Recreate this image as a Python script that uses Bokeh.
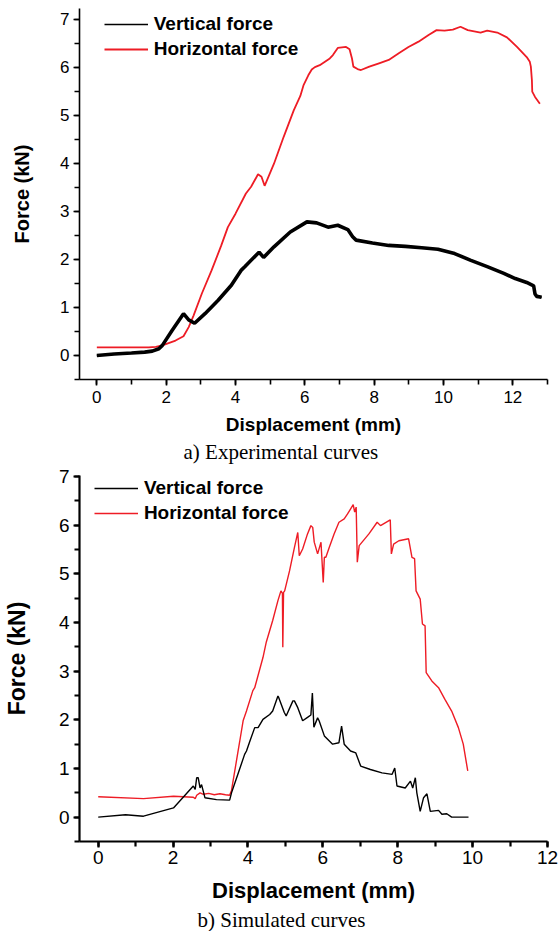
from bokeh.plotting import figure
from bokeh.models import Range1d, Legend, LegendItem, Title, SingleIntervalTicker
from bokeh.layouts import column
from bokeh.embed import file_html
from bokeh.resources import INLINE

# ---------------- data: a) Experimental curves ----------------
exp_h_x = [0, 0.5, 1.0, 1.5, 1.7, 1.89, 2.27, 2.5, 2.65, 2.79, 3.03, 3.31, 3.59, 3.78, 4.0,
           4.30, 4.45, 4.65, 4.75, 4.84, 5.11, 5.39, 5.68, 5.87, 5.96, 6.10, 6.20, 6.29, 6.43,
           6.72, 6.81, 6.95, 7.19, 7.29, 7.36, 7.40, 7.52, 7.62, 7.86, 8.14, 8.42, 8.71, 8.99,
           9.28, 9.57, 9.80, 10.03, 10.27, 10.49, 10.70, 11.07, 11.26, 11.55, 11.83, 12.12,
           12.40, 12.49, 12.52, 12.55, 12.56, 12.64, 12.78]
exp_h_y = [0.17, 0.17, 0.17, 0.17, 0.18, 0.21, 0.31, 0.40, 0.59, 0.83, 1.29, 1.77, 2.29, 2.67, 2.95,
           3.37, 3.51, 3.77, 3.72, 3.53, 3.99, 4.55, 5.10, 5.40, 5.62, 5.83, 5.95, 6.00, 6.04,
           6.18, 6.25, 6.40, 6.42, 6.37, 6.18, 6.01, 5.96, 5.94, 6.01, 6.08, 6.15, 6.29, 6.42,
           6.53, 6.67, 6.77, 6.76, 6.78, 6.84, 6.77, 6.72, 6.76, 6.72, 6.62, 6.42,
           6.21, 6.11, 6.01, 5.73, 5.49, 5.38, 5.24]

exp_v_x = [0, 0.5, 1.0, 1.38, 1.6, 1.79, 1.89, 2.17, 2.5, 2.65, 2.82, 3.12, 3.5, 3.88, 4.16,
           4.26, 4.68, 4.81, 5.11, 5.58, 6.06, 6.34, 6.67, 6.95, 7.24, 7.38, 7.48, 7.95, 8.42,
           8.90, 9.37, 9.84, 10.32, 10.79, 11.26, 11.74, 12.07, 12.40, 12.60, 12.64, 12.69, 12.83]
exp_v_y = [0.0, 0.03, 0.05, 0.07, 0.09, 0.14, 0.21, 0.52, 0.87, 0.74, 0.67, 0.87, 1.15, 1.46, 1.77,
           1.84, 2.15, 2.04, 2.26, 2.57, 2.78, 2.76, 2.67, 2.71, 2.62, 2.47, 2.40, 2.34, 2.29,
           2.27, 2.24, 2.21, 2.12, 1.98, 1.85, 1.71, 1.60, 1.52, 1.45, 1.28, 1.23, 1.21]

# ---------------- data: b) Simulated curves ----------------
sim_h_x = [0, 1.21, 2.01, 2.54, 2.59, 2.63, 2.72, 2.81, 2.95, 3.1, 3.25, 3.4, 3.51, 3.56, 3.78,
           3.87, 3.96, 4.13, 4.18, 4.40, 4.49, 4.66, 4.80, 4.88, 4.92, 4.93, 4.95, 4.98, 5.11,
           5.24, 5.33, 5.37, 5.46, 5.59, 5.68, 5.73, 5.77, 5.86, 5.95, 6.01, 6.04, 6.08, 6.17,
           6.30, 6.43, 6.57, 6.66, 6.81, 6.85, 6.89, 6.92, 6.97, 7.23, 7.45, 7.54, 7.80, 7.83,
           7.89, 8.03, 8.29, 8.38, 8.45, 8.49, 8.60, 8.66, 8.73, 8.76, 8.91, 9.09, 9.26, 9.44,
           9.62, 9.75, 9.87]
sim_h_y = [0.42, 0.38, 0.43, 0.41, 0.38, 0.45, 0.50, 0.47, 0.49, 0.46, 0.48, 0.46, 0.45, 0.55, 1.56,
           1.98, 2.18, 2.60, 2.66, 3.28, 3.60, 4.04, 4.45, 4.65, 4.60, 3.49, 4.62, 4.65, 5.06,
           5.54, 5.85, 5.37, 5.51, 5.82, 5.99, 5.95, 5.65, 5.41, 5.65, 4.82, 5.34, 5.34, 5.54,
           5.82, 6.06, 6.13, 6.23, 6.42, 6.27, 6.37, 5.24, 5.58, 5.82, 6.06, 5.99, 6.11, 5.41,
           5.61, 5.68, 5.72, 5.34, 5.31, 4.65, 4.48, 3.97, 3.93, 2.97, 2.80, 2.66, 2.42, 2.18,
           1.84, 1.50, 0.95]

sim_v_x = [0, 0.73, 1.21, 2.01, 2.54, 2.59, 2.63, 2.67, 2.72, 2.76, 2.85, 3.16, 3.51, 3.56, 3.73,
           3.91, 3.96, 4.05, 4.18, 4.27, 4.40, 4.58, 4.66, 4.80, 4.82, 4.97, 5.02, 5.20, 5.24,
           5.33, 5.46, 5.59, 5.68, 5.72, 5.76, 5.86, 5.90, 6.04, 6.26, 6.43, 6.50, 6.57, 6.74,
           6.88, 7.01, 7.27, 7.58, 7.85, 7.92, 7.98, 8.20, 8.34, 8.40, 8.47, 8.51, 8.60, 8.69,
           8.78, 8.87, 9.09, 9.18, 9.31, 9.44, 9.89]
sim_v_y = [0.0, 0.05, 0.02, 0.19, 0.64, 0.57, 0.81, 0.81, 0.60, 0.67, 0.40, 0.36, 0.35, 0.50, 0.88,
           1.29, 1.36, 1.56, 1.84, 1.84, 2.01, 2.11, 2.18, 2.49, 2.46, 2.15, 2.08, 2.39, 2.39,
           2.25, 1.98, 2.05, 2.10, 2.55, 1.85, 2.04, 1.98, 1.67, 1.50, 1.53, 1.87, 1.50, 1.36,
           1.32, 1.05, 0.98, 0.91, 0.88, 1.01, 0.64, 0.60, 0.74, 0.60, 0.81, 0.50, 0.12, 0.40,
           0.48, 0.12, 0.14, 0.06, 0.07, 0.0, 0.0]

series_labels = ["Vertical force", "Horizontal force"]
x_title = "Displacement (mm)"
y_title = "Force (kN)"
captions = ["a) Experimental curves", "b) Simulated curves"]

RED = "#ee1c25"
BLACK = "#000000"
SANS = "Liberation Sans"
SERIF = "Liberation Serif"


def style_axes(p, tick_size, xtitle_size, ytitle_size, line_w, xstand, xlab_stand, ylab_stand):
    p.grid.visible = False
    p.outline_line_color = None
    p.background_fill_color = "white"
    p.border_fill_color = "white"
    for ax in (p.xaxis[0], p.yaxis[0]):
        ax.axis_line_width = line_w
        ax.axis_line_color = "black"
        ax.major_tick_line_width = line_w
        ax.minor_tick_line_width = line_w
        ax.major_tick_line_color = "black"
        ax.minor_tick_line_color = "black"
        ax.major_tick_in = 0
        ax.major_tick_out = 6
        ax.minor_tick_in = 0
        ax.minor_tick_out = 5
        ax.major_label_text_font = SANS
        ax.major_label_text_font_size = tick_size
        ax.major_label_text_color = "black"
        ax.axis_label_text_font = SANS
        ax.axis_label_text_font_style = "bold"
        ax.axis_label_text_color = "black"
    p.xaxis[0].major_label_standoff = xstand
    p.yaxis[0].major_label_standoff = 4
    p.xaxis[0].axis_label_text_font_size = xtitle_size
    p.yaxis[0].axis_label_text_font_size = ytitle_size
    p.xaxis[0].ticker = SingleIntervalTicker(interval=2, num_minor_ticks=2)
    p.yaxis[0].ticker = SingleIntervalTicker(interval=1, num_minor_ticks=2)
    p.xaxis[0].axis_label = x_title
    p.yaxis[0].axis_label = y_title
    p.xaxis[0].axis_label_standoff = xlab_stand
    p.yaxis[0].axis_label_standoff = ylab_stand


def add_legend(p, r_v, r_h, loc, height):
    leg = Legend(items=[LegendItem(label=series_labels[0], renderers=[r_v]),
                        LegendItem(label=series_labels[1], renderers=[r_h])],
                 location=loc, glyph_width=44, glyph_height=height, label_height=height,
                 spacing=3, padding=0, margin=0, label_standoff=6,
                 border_line_color=None, background_fill_alpha=0,
                 label_text_font=SANS, label_text_font_style="bold",
                 label_text_font_size="19px", label_text_color="black")
    p.add_layout(leg)


# ---------------- top panel ----------------
p1 = figure(width=558, height=464, x_range=Range1d(-0.5, 13.0), y_range=Range1d(-0.5, 7.22),
            output_backend="svg", toolbar_location=None,
            min_border_left=76, min_border_right=7, min_border_top=8, min_border_bottom=85)
style_axes(p1, "17px", "19px", "20px", 1.6, 5, 8, 24)
r_h1 = p1.line(exp_h_x, exp_h_y, line_color=RED, line_width=1.8)
# thick trace, plus a thin core of the same data used for the legend key
p1.line(exp_v_x, exp_v_y, line_color=BLACK, line_width=3.6)
r_v1 = p1.line(exp_v_x, exp_v_y, line_color=BLACK, line_width=1.6)
add_legend(p1, r_v1, r_h1, (24.7, 318.7), 22)
p1.add_layout(Title(text=captions[0], align="left", offset=104, text_font=SERIF,
                    text_font_style="normal", text_font_size="21px", text_color="black",
                    standoff=0), "below")

# ---------------- bottom panel ----------------
p2 = figure(width=558, height=467, x_range=Range1d(-0.5, 12.0), y_range=Range1d(-0.5, 7.02),
            output_backend="svg", toolbar_location=None,
            min_border_left=76, min_border_right=11, min_border_top=11, min_border_bottom=90)
style_axes(p2, "19px", "22px", "23px", 2.2, 3, 11, 26)
r_h2 = p2.line(sim_h_x, sim_h_y, line_color=RED, line_width=1.4)
r_v2 = p2.line(sim_v_x, sim_v_y, line_color=BLACK, line_width=1.4)
add_legend(p2, r_v2, r_h2, (14.9, 317), 20)
p2.add_layout(Title(text=captions[1], align="left", offset=118, text_font=SERIF,
                    text_font_style="normal", text_font_size="21px", text_color="black",
                    standoff=0), "below")

layout = column(p1, p2, spacing=0)
open("out.html", "w").write(file_html(layout, INLINE))
